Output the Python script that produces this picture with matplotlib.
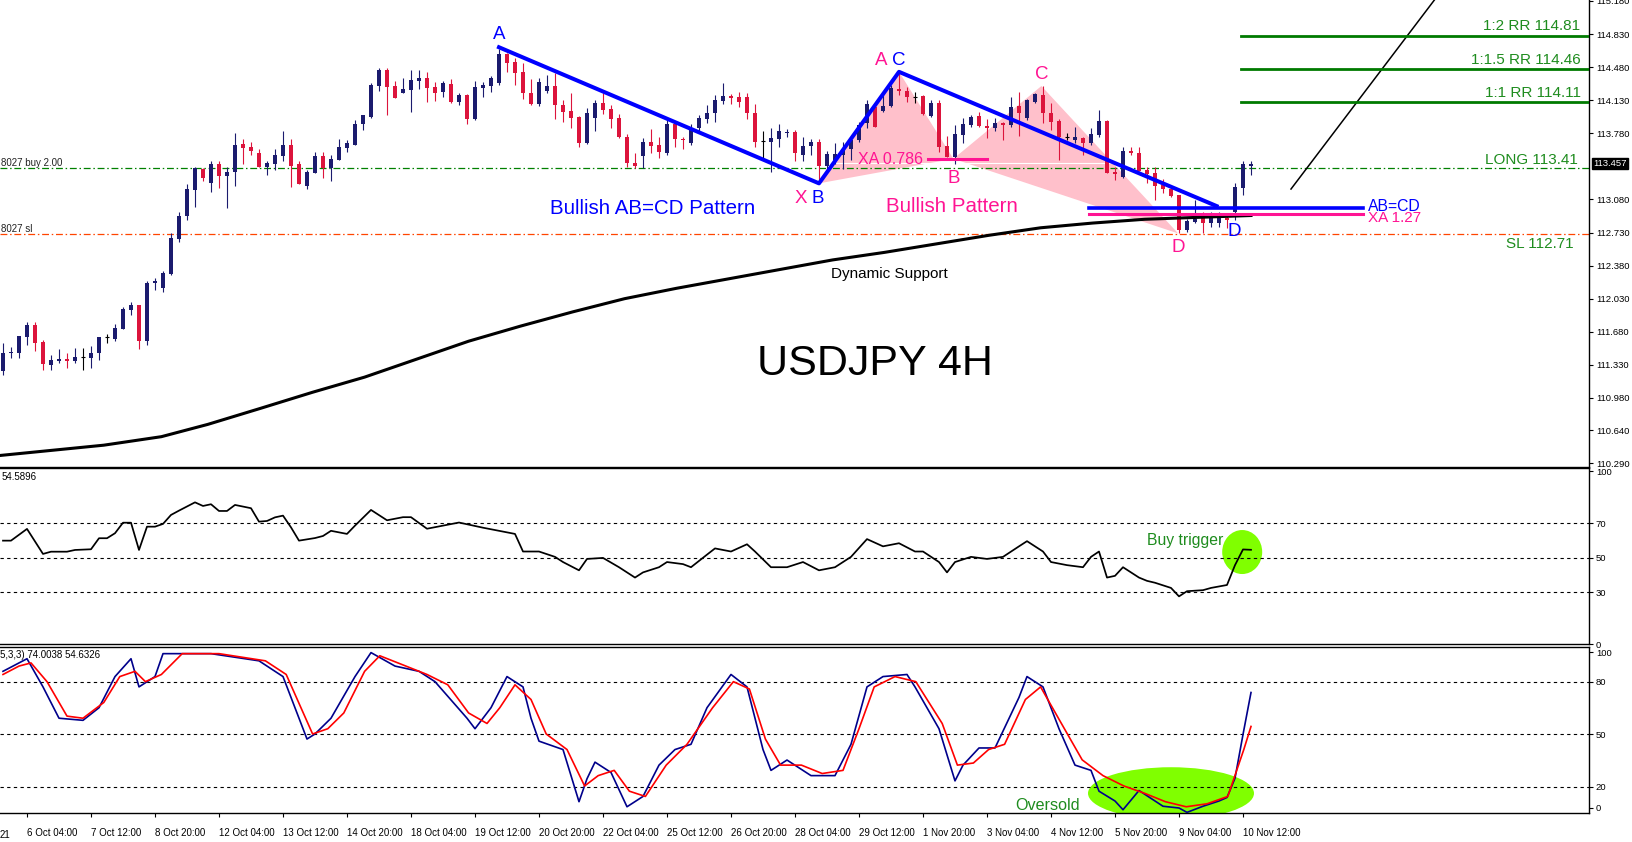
import numpy as np
import matplotlib.pyplot as plt
from matplotlib.patches import Ellipse

plt.rcParams['font.family'] = ['Liberation Sans', 'DejaVu Sans']

# USDJPY 4H candles, 5 Oct 16:00 -> 10 Nov 16:00
opens = [111.26, 111.45, 111.46, 111.62, 111.75, 111.57, 111.33, 111.37, 111.39, 111.37,
         111.41, 111.40, 111.45, 111.62, 111.60, 111.71, 111.91, 111.96, 111.58, 112.20,
         112.14, 112.29, 112.66, 112.90, 113.18, 113.40, 113.25, 113.46, 113.33, 113.37,
         113.67, 113.63, 113.57, 113.42, 113.46, 113.54, 113.66, 113.45, 113.22, 113.36,
         113.54, 113.41, 113.50, 113.62, 113.66, 113.88, 113.95, 114.28, 114.45, 114.28,
         114.21, 114.24, 114.33, 114.36, 114.27, 114.22, 114.30, 114.11, 114.18, 113.93,
         114.26, 114.28, 114.31, 114.62, 114.53, 114.43, 114.21, 114.09, 114.23, 114.28,
         114.08, 114.02, 113.95, 113.68, 113.94, 114.10, 114.04, 113.94, 113.74, 113.47,
         113.54, 113.69, 113.66, 113.57, 113.88, 113.72, 113.68, 113.84, 113.93, 113.99,
         114.12, 114.17, 114.16, 114.16, 113.99, 113.70, 113.69, 113.72, 113.78, 113.79,
         113.55, 113.65, 113.69, 113.43, 113.50, 113.55, 113.61, 113.71, 113.89, 114.06,
         114.02, 114.07, 114.25, 114.23, 114.16, 114.17, 113.96, 114.10, 113.65, 113.53,
         113.76, 113.87, 113.96, 113.86, 113.84, 113.89, 113.87, 114.07, 113.94, 114.11,
         114.18, 113.99, 113.91, 113.74, 113.71, 113.73, 113.68, 113.76, 113.91, 113.37,
         113.32, 113.59, 113.57, 113.39, 113.36, 113.23, 113.19, 113.13, 112.76, 112.84,
         112.88, 112.83, 112.83, 112.88, 112.95, 113.20, 113.43]
highs = [111.56, 111.52, 111.64, 111.78, 111.78, 111.59, 111.43, 111.50, 111.45, 111.51,
         111.51, 111.53, 111.62, 111.66, 111.76, 111.94, 111.99, 111.96, 112.22, 112.25,
         112.32, 112.72, 112.95, 113.24, 113.42, 113.41, 113.49, 113.49, 113.42, 113.78,
         113.72, 113.69, 113.61, 113.49, 113.61, 113.80, 113.72, 113.49, 113.39, 113.58,
         113.58, 113.55, 113.72, 113.71, 113.92, 113.97, 114.31, 114.47, 114.47, 114.33,
         114.36, 114.45, 114.45, 114.43, 114.32, 114.33, 114.35, 114.21, 114.20, 114.33,
         114.32, 114.39, 114.67, 114.63, 114.58, 114.52, 114.35, 114.36, 114.40, 114.42,
         114.13, 114.21, 113.96, 114.05, 114.13, 114.21, 114.08, 113.98, 113.77, 113.57,
         113.73, 113.83, 113.74, 113.92, 113.90, 113.74, 113.88, 113.97, 114.08, 114.18,
         114.31, 114.20, 114.22, 114.21, 114.09, 113.80, 113.84, 113.88, 113.83, 113.81,
         113.74, 113.72, 113.72, 113.59, 113.68, 113.69, 113.74, 113.90, 114.13, 114.10,
         114.18, 114.29, 114.43, 114.27, 114.22, 114.18, 114.13, 114.13, 113.75, 113.87,
         113.94, 113.97, 114.00, 113.93, 113.94, 113.90, 114.16, 114.22, 114.14, 114.21,
         114.28, 114.10, 113.93, 113.78, 113.85, 113.74, 113.84, 114.03, 113.92, 113.42,
         113.63, 113.63, 113.63, 113.42, 113.42, 113.30, 113.22, 113.13, 112.87, 113.07,
         112.95, 112.95, 112.95, 112.93, 113.25, 113.49, 113.49]
lows = [111.22, 111.40, 111.40, 111.54, 111.48, 111.28, 111.28, 111.35, 111.30, 111.35,
        111.28, 111.30, 111.38, 111.56, 111.58, 111.71, 111.86, 111.50, 111.54, 112.12,
        112.10, 112.28, 112.63, 112.86, 113.00, 113.27, 113.16, 113.20, 112.99, 113.22,
        113.45, 113.55, 113.42, 113.34, 113.39, 113.49, 113.21, 113.24, 113.19, 113.36,
        113.31, 113.28, 113.50, 113.58, 113.66, 113.81, 113.94, 114.23, 113.97, 114.15,
        114.21, 114.00, 114.25, 114.11, 114.12, 114.16, 114.10, 114.08, 113.88, 113.92,
        114.16, 114.22, 114.29, 114.43, 114.29, 114.14, 114.08, 114.07, 114.21, 113.93,
        113.90, 113.84, 113.63, 113.67, 113.80, 113.98, 113.84, 113.73, 113.42, 113.41,
        113.41, 113.57, 113.52, 113.55, 113.63, 113.61, 113.66, 113.79, 113.89, 113.90,
        114.09, 114.09, 114.06, 113.93, 113.63, 113.52, 113.37, 113.63, 113.74, 113.49,
        113.49, 113.55, 113.27, 113.39, 113.45, 113.40, 113.50, 113.69, 113.84, 113.85,
        114.00, 114.06, 114.18, 114.11, 114.10, 113.97, 113.95, 113.58, 113.53, 113.45,
        113.68, 113.85, 113.85, 113.73, 113.80, 113.71, 113.85, 113.75, 113.92, 114.10,
        113.89, 113.81, 113.50, 113.71, 113.68, 113.55, 113.66, 113.74, 113.36, 113.29,
        113.31, 113.55, 113.38, 113.25, 113.07, 113.15, 113.11, 112.72, 112.74, 112.83,
        112.72, 112.79, 112.79, 112.78, 112.86, 113.13, 113.34]
closes = [111.46, 111.46, 111.63, 111.75, 111.56, 111.34, 111.38, 111.39, 111.37, 111.41,
          111.41, 111.46, 111.62, 111.62, 111.72, 111.92, 111.96, 111.58, 112.20, 112.21,
          112.30, 112.67, 112.90, 113.19, 113.41, 113.31, 113.45, 113.33, 113.37, 113.66,
          113.62, 113.59, 113.42, 113.47, 113.55, 113.66, 113.43, 113.24, 113.37, 113.54,
          113.41, 113.51, 113.63, 113.68, 113.88, 113.97, 114.29, 114.45, 114.27, 114.15,
          114.25, 114.34, 114.36, 114.26, 114.21, 114.31, 114.11, 114.18, 113.93, 114.27,
          114.29, 114.36, 114.62, 114.52, 114.42, 114.21, 114.09, 114.32, 114.28, 114.08,
          114.00, 113.94, 113.68, 113.99, 114.10, 114.03, 113.93, 113.74, 113.47, 113.43,
          113.69, 113.65, 113.58, 113.88, 113.72, 113.71, 113.84, 113.94, 113.99, 114.13,
          114.17, 114.15, 114.11, 113.99, 113.69, 113.70, 113.73, 113.80, 113.79, 113.57,
          113.65, 113.69, 113.43, 113.56, 113.56, 113.61, 113.71, 113.87, 114.09, 113.85,
          114.07, 114.26, 114.23, 114.16, 114.16, 113.98, 114.10, 113.63, 113.53, 113.77,
          113.88, 113.95, 113.86, 113.84, 113.89, 113.87, 114.06, 113.99, 114.13, 114.20,
          113.99, 113.90, 113.74, 113.74, 113.74, 113.68, 113.77, 113.91, 113.36, 113.35,
          113.59, 113.57, 113.38, 113.35, 113.22, 113.19, 113.12, 112.76, 112.85, 112.87,
          112.83, 112.88, 112.89, 112.86, 113.21, 113.45, 113.457]

# moving average ("Dynamic Support") (bar index, price)
ma_idx = [-0.5, 12.6, 19.8, 25.6, 32.2, 38.7, 45.2, 51.7, 58.2, 64.7, 71.2, 77.7, 84.2,
          90.7, 97.2, 103.7, 110.2, 116.7, 123.2, 129.7, 136.2, 142.7, 149.2, 156]
ma_val = [110.37, 110.48, 110.57, 110.70, 110.87, 111.04, 111.20, 111.39, 111.58, 111.74,
          111.89, 112.03, 112.14, 112.24, 112.34, 112.44, 112.52, 112.61, 112.70, 112.78,
          112.83, 112.87, 112.89, 112.91]

# RSI vertices (bar index, value)
rsi_idx = [0, 1, 3, 5, 6, 8, 9, 11, 12, 13, 14, 15, 16, 17, 18, 19, 20, 21, 22, 24,
           25, 26, 27, 28, 29, 31, 32, 33, 34, 35, 36, 37, 39, 40, 41, 43, 44, 46, 48,
           50, 51, 53, 55, 57, 60, 62, 64, 65, 67, 69, 70, 72, 73, 75, 77, 79, 80, 82,
           83, 85, 86, 88, 89, 91, 93, 94, 96, 98, 100, 102, 104, 106, 108, 110, 112,
           114, 115, 117, 118, 119, 121, 123, 125, 127, 128, 130, 131, 133, 135, 136,
           137, 138, 139, 140, 142, 143, 144, 146, 147, 148, 150, 151, 153, 154, 155, 156]
rsi_val = [59.9, 59.9, 66.7, 52.2, 53.5, 53.5, 54.5, 54.9, 61.3, 61.3, 64.2, 70.3, 70.3,
           54.5, 68.0, 68.0, 69.6, 74.8, 77.3, 82.1, 80.0, 81.0, 77.1, 77.1, 80.6, 78.7,
           70.9, 71.3, 73.4, 74.4, 67.6, 59.9, 61.4, 62.6, 65.6, 63.8, 68.6, 77.7, 71.7,
           73.5, 73.5, 66.8, 68.6, 70.4, 67.4, 65.6, 63.8, 53.6, 53.6, 50.5, 47.5, 42.7,
           49.3, 49.9, 44.5, 38.5, 41.5, 44.5, 47.5, 46.3, 44.5, 51.8, 55.4, 53.6, 57.8,
           53.6, 44.5, 44.5, 47.5, 42.7, 44.5, 50.5, 60.8, 56.6, 58.4, 53.6, 53.6, 47.5,
           41.5, 47.5, 50.5, 49.3, 50.5, 56.6, 59.6, 53.6, 47.5, 45.7, 44.5, 50.5, 53.6,
           38.5, 39.5, 44.5, 38.5, 36.6, 35.5, 32.5, 27.6, 30.6, 31.2, 32.5, 34.2, 45.7,
           54.8, 54.59]

# Stochastic %K (blue) and %D (red) vertices
stk_idx = [0, 3, 5, 7, 10, 12, 14, 16, 17, 19, 20, 26, 32, 35, 38, 39, 41, 44, 46, 49,
           52, 54, 58, 59, 61, 63, 65, 66, 67, 70, 72, 73, 74, 76, 78, 80, 82, 84, 86,
           88, 91, 93, 95, 96, 98, 101, 104, 106, 108, 110, 113, 114, 117, 119, 120,
           122, 124, 127, 128, 130, 132, 134, 136, 137, 139, 140, 142, 143, 145, 147,
           148, 150, 152, 153, 154, 155, 156]
stk_val = [86.1, 93.3, 77.2, 59.3, 58.1, 65.3, 83.1, 93.3, 77.2, 83.1, 96.2, 96.2, 92.1,
           83.1, 47.4, 50.3, 59.3, 83.1, 96.8, 89.1, 86.1, 80.2, 59.3, 53.3, 65.3, 83.1,
           77.2, 59.3, 46.2, 41.4, 11.6, 24.7, 34.2, 28.3, 8.7, 14.6, 32.5, 41.4, 44.4,
           65.3, 84.3, 77.2, 41.4, 29.5, 35.4, 26.5, 26.5, 44.4, 77.2, 83.1, 84.3, 77.2,
           53.3, 23.5, 32.5, 42.3, 42.3, 71.2, 83.1, 77.2, 53.3, 32.5, 29.5, 17.6, 12.0,
           7.0, 18.0, 15.0, 9.0, 8.0, 5.5, 9.0, 12.0, 14.0, 25.0, 50.0, 74.0]
std_idx = [0, 2, 3.5, 5.5, 8, 10, 12.6, 14.6, 16.5, 17.8, 19.8, 22.4, 27, 32.8, 35.4,
           38.7, 40.6, 42.6, 45.2, 47.1, 49.7, 53, 55.6, 58.2, 60.5, 62.1, 64, 66, 67.9,
           70.5, 72.7, 74.4, 76.4, 78.3, 80.3, 82.9, 85.5, 88.7, 91.3, 93.3, 95.3, 97.2,
           99.8, 102.4, 105, 107, 108.9, 111.5, 114.1, 117.4, 119.3, 121.3, 123.2, 125.2,
           127.8, 129.7, 132.3, 134.9, 137.5, 140.1, 142.7, 145.3, 147.9, 150.5, 153.1,
           155.1, 156]
std_val = [84.3, 89.1, 90.9, 80.2, 60.5, 59.3, 68.3, 83.1, 86.1, 80.2, 84.3, 96.2, 96.2,
           92.1, 84.3, 50.3, 53.3, 62.3, 86.1, 95.0, 90.3, 84.3, 78.4, 62.3, 56.3, 65.3,
           78.4, 70.0, 50.3, 41.4, 20.6, 26.5, 29.5, 17.6, 14.6, 32.5, 44.4, 65.3, 80.2,
           76.0, 47.4, 32.5, 32.5, 27.7, 29.5, 53.3, 77.2, 83.1, 80.2, 56.3, 32.5, 33.7,
           41.4, 44.4, 70.0, 77.2, 56.3, 35.5, 26.5, 20.6, 16.4, 11.6, 8.7, 10.4, 14.6,
           41.4, 54.6]

price_ticks = [115.180, 114.830, 114.480, 114.130, 113.780, 113.080, 112.730, 112.380,
               112.030, 111.680, 111.330, 110.980, 110.640, 110.290]
date_idx = [3, 11, 19, 27, 35, 43, 51, 59, 67, 75, 83, 91, 99, 107, 115, 123, 131,
            139, 147, 155]
date_lbl = ['6 Oct 04:00', '7 Oct 12:00', '8 Oct 20:00', '12 Oct 04:00', '13 Oct 12:00',
            '14 Oct 20:00', '18 Oct 04:00', '19 Oct 12:00', '20 Oct 20:00', '22 Oct 04:00',
            '25 Oct 12:00', '26 Oct 20:00', '28 Oct 04:00', '29 Oct 12:00', '1 Nov 20:00',
            '3 Nov 04:00', '4 Nov 12:00', '5 Nov 20:00', '9 Nov 04:00', '10 Nov 12:00']

# harmonic / AB=CD points (bar index, price)
abcd_i = [62, 102, 112, 151.7]
abcd_p = [114.69, 113.25, 114.43, 113.01]
xabcd_i = [102, 112, 118.8, 129.8, 146.9]
xabcd_p = [113.25, 114.43, 113.51, 114.28, 112.72]

NAVY = '#1b1b6e'
RED = '#dc143c'
BLUE = '#0000ff'
PINK = '#ff1493'
GREEN = '#1e8c1e'

W, H = 1632, 842
def box(top, bottom, right=1589):
    return [0, 1 - bottom / H, right / W, (bottom - top) / H]

fig = plt.figure(figsize=(W / 100, H / 100), dpi=100)
ax = fig.add_axes(box(0, 467))
ax_rsi = fig.add_axes(box(468, 644), sharex=ax)
ax_st = fig.add_axes(box(647, 813), sharex=ax)

# ---- main price panel
o, h, l, c = map(np.array, (opens, highs, lows, closes))
idx = np.arange(len(o))
doji = np.isclose(o, c)
col = np.where(c > o, NAVY, RED)
nd = ~doji
ax.vlines(idx[nd], l[nd], h[nd], colors=col[nd], lw=0.8, zorder=3)
ax.bar(idx[nd], np.maximum(np.abs(c - o), 0.012)[nd], bottom=np.minimum(o, c)[nd],
       width=0.62, color=col[nd], lw=0, zorder=3)
ax.vlines(idx[doji], l[doji], h[doji], colors='black', lw=0.8, zorder=3)
ax.hlines(c[doji], idx[doji] - 0.31, idx[doji] + 0.31, colors='black', lw=0.8, zorder=3)

X, A, B, C, D = zip(xabcd_i, xabcd_p)
ax.fill([X[0], A[0], B[0]], [X[1], A[1], B[1]], color='#ffc0cb', lw=0, zorder=1)
ax.fill([B[0], C[0], D[0]], [B[1], C[1], D[1]], color='#ffc0cb', lw=0, zorder=1)
ax.axhline(113.465, color='white', lw=0.8, zorder=1.5)

dashdot = (0, (5.5, 2.2, 1.2, 2.2))
ax.axhline(113.41, color='#008000', lw=0.9, ls=dashdot, zorder=2)
ax.axhline(112.71, color='#ff4500', lw=0.9, ls=dashdot, zorder=2)

ax.plot(ma_idx, ma_val, color='black', lw=2.2, zorder=4)
ax.plot(abcd_i, abcd_p, color=BLUE, lw=2.9, zorder=5)
ax.plot([115.6, 123], [113.51, 113.51], color=PINK, lw=2.2, zorder=5)
ax.plot([135.75, 170], [112.99, 112.99], color=BLUE, lw=2.6, zorder=5)
ax.plot([135.75, 170], [112.93, 112.93], color=PINK, lw=2.2, zorder=5)
ax.plot([161, 180], [113.19, 115.31], color='black', lw=1.1, zorder=5)
for lvl in (114.81, 114.46, 114.11):
    ax.plot([154.8, 199], [lvl, lvl], color='#007a00', lw=2.0, zorder=5)

def t(x, y, s, color, size, **kw):
    ax.text(x, y, s, color=color, fontsize=size, ha=kw.pop('ha', 'center'),
            va=kw.pop('va', 'center'), zorder=6, **kw)

t(62, 114.83, 'A', BLUE, 13.5)
t(99.75, 113.095, 'X', PINK, 13.5)
t(101.9, 113.095, 'B', BLUE, 13.5)
t(109.8, 114.55, 'A', PINK, 13.5)
t(111.96, 114.55, 'C', BLUE, 13.5)
t(118.9, 113.30, 'B', PINK, 13.5)
t(129.8, 114.40, 'C', PINK, 13.5)
t(146.9, 112.57, 'D', PINK, 13.5)
t(153.9, 112.74, 'D', BLUE, 13.5)
t(110.9, 113.50, 'XA 0.786', PINK, 11.5)
t(81.25, 112.98, 'Bullish AB=CD Pattern', BLUE, 14.8)
t(118.6, 113.00, 'Bullish Pattern', PINK, 14.8)
t(110.75, 112.29, 'Dynamic Support', 'black', 11)
t(109, 111.34, 'USDJPY 4H', 'black', 31)
t(170.6, 113.01, 'AB=CD', BLUE, 11.3, ha='left')
t(170.6, 112.88, 'XA 1.27', PINK, 11, ha='left')
t(197.2, 114.81 + 0.1, '1:2 RR 114.81', GREEN, 11, ha='right')
t(197.2, 114.46 + 0.1, '1:1.5 RR 114.46', GREEN, 11, ha='right')
t(197.2, 114.11 + 0.1, '1:1 RR 114.11', GREEN, 11, ha='right')
t(196.8, 113.41 + 0.085, 'LONG 113.41', GREEN, 11, ha='right')
t(196.3, 112.71 - 0.105, 'SL 112.71', GREEN, 11, ha='right')
t(-0.3, 113.465, '8027 buy 2.00', '#222222', 7, ha='left')
t(-0.3, 112.77, '8027 sl', '#222222', 7, ha='left')

ax.set_xlim(-0.375, 198.25)
ax.set_ylim(115.19 - 467 * 0.01058, 115.19)
ax.yaxis.tick_right()
ax.set_yticks(price_ticks)
ax.set_yticklabels([f'{v:.3f}' for v in price_ticks])
ax.annotate('113.457', xy=(1.0, 113.457), xycoords=('axes fraction', 'data'),
            xytext=(3, 0), textcoords='offset points', ha='left', va='center',
            fontsize=6.8, color='white', annotation_clip=False,
            bbox=dict(boxstyle='square,pad=0.12', fc='black', ec='black'))

# ---- RSI panel
ax_rsi.plot(rsi_idx, rsi_val, color='black', lw=1.25, zorder=3)
for lv in (30, 50, 70):
    ax_rsi.axhline(lv, color='black', lw=0.8, ls=(0, (3, 3)))
ax_rsi.add_patch(Ellipse((154.9, 53.3), 5, 25.5, color='#80ff00', lw=0, zorder=1))
ax_rsi.text(147.75, 59.7, 'Buy trigger', color=GREEN, fontsize=11.3, ha='center', va='center')
ax_rsi.text(0.001, 0.949, '54.5896', transform=ax_rsi.transAxes, fontsize=7, va='center')
ax_rsi.set_ylim(0, 102)
ax_rsi.yaxis.tick_right()
ax_rsi.set_yticks([0, 30, 50, 70, 100])

# ---- Stochastic panel
ax_st.add_patch(Ellipse((146, 16.4), 20.75, 29.8, color='#80ff00', lw=0, zorder=1))
ax_st.plot(stk_idx, stk_val, color='#00008b', lw=1.2, zorder=3)
ax_st.plot(std_idx, std_val, color='#ff0000', lw=1.2, zorder=3)
for lv in (20, 50, 80):
    ax_st.axhline(lv, color='black', lw=0.8, ls=(0, (3, 3)))
ax_st.text(130.6, 9.6, 'Oversold', color=GREEN, fontsize=11.6, ha='center', va='center')
ax_st.text(0.0, 0.95, '5,3,3) 74.0038 54.6326', transform=ax_st.transAxes, fontsize=7,
           va='center')
ax_st.set_ylim(5.14, 100)
ax_st.yaxis.tick_right()
ax_st.set_yticks([8, 20, 50, 80, 97])
ax_st.set_yticklabels(['0', '20', '50', '80', '100'])

ax_st.set_xticks(date_idx)
ax_st.set_xticklabels(date_lbl)
for lab in ax_st.get_xticklabels():
    lab.set_ha('left')
ax_st.tick_params(axis='x', length=3, pad=8, labelsize=7)
ax_st.text(0.0, -0.135, '21', transform=ax_st.transAxes,
           fontsize=7, ha='left', va='center', clip_on=False)

for a in (ax, ax_rsi, ax_st):
    a.tick_params(axis='y', length=3, width=0.8, labelsize=6.8, pad=2)
    a.spines['left'].set_visible(False)
    for s in ('right', 'bottom', 'top'):
        a.spines[s].set_linewidth(1.0)
ax.spines['top'].set_visible(False)
ax.tick_params(axis='x', bottom=False, labelbottom=False)
ax_rsi.tick_params(axis='x', bottom=False, labelbottom=False)

fig.savefig('out.png', dpi=100)
